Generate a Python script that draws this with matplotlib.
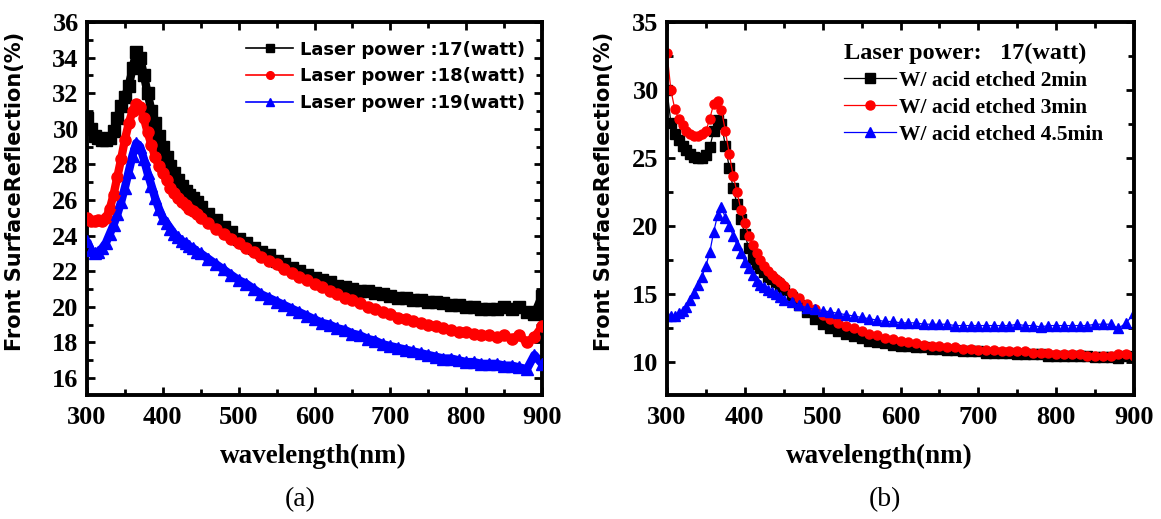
import matplotlib
matplotlib.use("Agg")
import matplotlib.pyplot as plt
from matplotlib.ticker import MultipleLocator

# ---------------- data: panel (a) ----------------
wl_a = [300, 305, 310, 315, 320, 325, 330, 335, 340, 345, 350, 355, 360, 365, 370,
        375, 380, 385, 390, 395, 400, 405, 410, 415, 420, 425, 430, 435, 440, 445, 450,
        460, 470, 480, 490, 500, 510, 520, 530, 540, 550, 560, 570, 580, 590, 600,
        610, 620, 630, 640, 650, 660, 670, 680, 690, 700, 710, 720, 730, 740, 750,
        760, 770, 780, 790, 800, 810, 820, 830, 840, 850, 860, 870, 880, 890, 900]

p17 = [30.6, 30.0, 29.6, 29.5, 29.4, 29.4, 29.5, 29.9, 30.6, 31.3, 31.8, 32.4, 33.4, 34.3, 34.0,
       33.0, 32.0, 31.0, 30.3, 29.6, 29.0, 28.4, 27.9, 27.5, 27.1, 26.8, 26.5, 26.3, 26.1, 25.9, 25.6,
       25.2, 24.9, 24.5, 24.2, 23.8, 23.6, 23.3, 23.1, 22.9, 22.6, 22.4, 22.2, 22.0, 21.8, 21.6,
       21.5, 21.4, 21.2, 21.1, 21.0, 20.9, 20.9, 20.8, 20.7, 20.6, 20.5, 20.5, 20.4, 20.4, 20.3,
       20.3, 20.2, 20.1, 20.1, 20.0, 20.0, 19.9, 19.9, 19.9, 20.0, 19.9, 20.0, 19.7, 19.6, 20.6]

p18 = [25.0, 24.8, 24.8, 24.9, 24.8, 25.0, 25.5, 26.3, 27.3, 28.3, 29.4, 30.3, 31.0, 31.4, 31.2,
       30.6, 29.8, 29.1, 28.4, 27.9, 27.5, 27.1, 26.7, 26.4, 26.1, 25.9, 25.7, 25.5, 25.4, 25.2, 25.0,
       24.7, 24.4, 24.1, 23.8, 23.6, 23.3, 23.1, 22.8, 22.6, 22.4, 22.1, 21.9, 21.7, 21.5, 21.3,
       21.1, 20.9, 20.7, 20.5, 20.4, 20.2, 20.0, 19.9, 19.7, 19.6, 19.4, 19.3, 19.2, 19.1, 19.0,
       18.9, 18.8, 18.7, 18.6, 18.6, 18.5, 18.4, 18.4, 18.3, 18.4, 18.2, 18.4, 18.0, 18.3, 18.9]

p19 = [23.7, 23.2, 23.0, 23.1, 23.3, 23.6, 24.1, 24.6, 25.2, 25.9, 26.7, 27.6, 28.5, 29.2, 29.0,
       28.3, 27.5, 26.8, 26.1, 25.5, 25.0, 24.7, 24.4, 24.1, 23.9, 23.7, 23.6, 23.4, 23.3, 23.1, 23.0,
       22.7, 22.4, 22.1, 21.8, 21.5, 21.3, 21.0, 20.7, 20.5, 20.3, 20.1, 19.9, 19.7, 19.5, 19.3,
       19.1, 19.0, 18.8, 18.7, 18.5, 18.4, 18.2, 18.1, 17.9, 17.8, 17.7, 17.6, 17.5, 17.4, 17.3,
       17.2, 17.1, 17.1, 17.0, 16.9, 16.9, 16.8, 16.8, 16.8, 16.7, 16.7, 16.6, 16.5, 17.3, 16.8]

labels_a = ["Laser power :17(watt)", "Laser power :18(watt)", "Laser power :19(watt)"]

# ---------------- data: panel (b) ----------------
wl_b = list(wl_a)

etch2 = [30.0, 27.6, 26.8, 26.3, 25.9, 25.6, 25.3, 25.1, 25.0, 25.0, 25.2, 25.8, 27.0, 27.8, 27.5,
         25.9, 24.3, 22.8, 21.6, 20.5, 19.4, 18.4, 17.6, 17.2, 16.9, 16.6, 16.3, 16.1, 15.9, 15.6, 15.3,
         14.8, 14.2, 13.7, 13.2, 12.8, 12.5, 12.3, 12.1, 11.9, 11.8, 11.6, 11.5, 11.4, 11.3, 11.2,
         11.2, 11.1, 11.1, 11.0, 11.0, 10.9, 10.9, 10.8, 10.8, 10.8, 10.7, 10.7, 10.7, 10.7, 10.6,
         10.6, 10.6, 10.6, 10.5, 10.5, 10.5, 10.5, 10.5, 10.5, 10.4, 10.4, 10.4, 10.3, 10.5, 10.4]

etch3 = [32.7, 30.0, 28.6, 27.9, 27.4, 27.0, 26.8, 26.6, 26.6, 26.8, 27.0, 27.9, 29.0, 29.2, 28.5,
         27.0, 25.3, 23.7, 22.5, 21.2, 20.2, 19.3, 18.6, 18.0, 17.5, 17.1, 16.7, 16.4, 16.1, 15.9, 15.6,
         15.1, 14.7, 14.3, 13.9, 13.5, 13.2, 12.9, 12.7, 12.5, 12.3, 12.1, 12.0, 11.8, 11.7, 11.6,
         11.5, 11.4, 11.3, 11.2, 11.2, 11.1, 11.1, 11.0, 11.0, 10.9, 10.9, 10.9, 10.8, 10.8, 10.8,
         10.8, 10.7, 10.7, 10.7, 10.6, 10.6, 10.6, 10.6, 10.5, 10.5, 10.5, 10.5, 10.6, 10.6, 10.5]

etch45 = [13.4, 13.4, 13.4, 13.6, 13.8, 14.1, 14.6, 15.1, 15.7, 16.3, 17.1, 18.1, 19.6, 20.8, 21.4,
          20.6, 20.0, 19.3, 18.6, 18.0, 17.4, 16.9, 16.4, 16.0, 15.7, 15.5, 15.3, 15.2, 15.0, 14.8, 14.6,
          14.4, 14.2, 14.0, 13.9, 13.8, 13.7, 13.6, 13.5, 13.4, 13.3, 13.2, 13.1, 13.0, 13.0, 12.9,
          12.9, 12.9, 12.8, 12.8, 12.8, 12.8, 12.7, 12.7, 12.7, 12.7, 12.7, 12.7, 12.7, 12.7, 12.8,
          12.7, 12.7, 12.6, 12.7, 12.7, 12.7, 12.7, 12.7, 12.7, 12.8, 12.8, 12.8, 12.5, 12.9, 13.6]

labels_b = ["W/ acid etched 2min", "W/ acid etched 3min", "W/ acid etched 4.5min"]
legend_title_b = "Laser power:   17(watt)"

xticks = [300, 400, 500, 600, 700, 800, 900]
yticks_a = [16, 18, 20, 22, 24, 26, 28, 30, 32, 34, 36]
yticks_b = [10, 15, 20, 25, 30, 35]

colors = ["#000000", "#ff0000", "#0000ff"]

# ---------------- figure ----------------
W, H = 1161, 519
fig = plt.figure(figsize=(W / 100, H / 100), dpi=100)

def box(x0, x1, y0, y1):
    return [x0 / W, (H - y1) / H, (x1 - x0) / W, (y1 - y0) / H]

ax1 = fig.add_axes(box(87, 542, 22, 395))
ax2 = fig.add_axes(box(667, 1134, 22, 395))

tick_font = dict(family="Liberation Serif", weight="bold", size=19)
xlabel_font = dict(family="Liberation Serif", weight="bold", size=19.5)
ylabel_font = dict(family="DejaVu Sans", weight="bold", size=15)

def style(ax, ylim, yticks, ymin_step):
    ax.set_xlim(300, 900)
    ax.set_ylim(*ylim)
    ax.set_xticks(xticks)
    ax.set_yticks(yticks)
    ax.xaxis.set_minor_locator(MultipleLocator(50))
    ax.yaxis.set_minor_locator(MultipleLocator(ymin_step))
    ax.tick_params(which="both", direction="in", top=True, right=True, width=2, color="black")
    ax.tick_params(which="major", length=6)
    ax.tick_params(which="minor", length=4)
    ax.tick_params(axis="x", which="major", pad=8)
    ax.tick_params(axis="y", which="major", pad=6)
    for s in ax.spines.values():
        s.set_linewidth(2.8)
    ax.set_xticklabels([str(t) for t in xticks], fontdict=tick_font)
    ax.set_yticklabels([str(t) for t in yticks], fontdict=tick_font)
    ax.set_xlabel("wavelength(nm)", fontdict=xlabel_font)
    ax.set_ylabel("Front SurfaceReflection(%)", fontdict=ylabel_font)

# panel (a)
markers_a = ["s", "o", "^"]
for ys, c, m, lab in zip([p17, p18, p19], colors, markers_a, labels_a):
    ax1.plot(wl_a, ys, color=c, lw=6, zorder=2, solid_capstyle="butt")
    ax1.plot(wl_a, ys, color=c, lw=0, marker=m, ms=8, mec=c, mfc=c, zorder=3)
    ax1.plot([], [], color=c, lw=1.2, marker=m, ms=5.5, label=lab)

style(ax1, (15.05, 36), yticks_a, 1)
ax1.yaxis.set_label_coords(-0.137, 0.545)
ax1.xaxis.set_label_coords(0.497, -0.13)

leg1 = ax1.legend(loc="upper left", bbox_to_anchor=(0.35, 0.95), frameon=False,
                  prop=dict(family="DejaVu Sans", weight="bold", size=13),
                  handlelength=2.6, handletextpad=0.35, labelspacing=0.48,
                  borderpad=0, borderaxespad=0)

# panel (b)
markers_b = ["s", "o", "^"]
for ys, c, m, lab in zip([etch2, etch3, etch45], colors, markers_b, labels_b):
    ax2.plot(wl_b, ys, color=c, lw=0.9, marker=m, ms=6.5, mec=c, mfc=c, label=lab)

style(ax2, (7.6, 35), yticks_b, 2.5)
ax2.yaxis.set_label_coords(-0.113, 0.545)
ax2.xaxis.set_label_coords(0.454, -0.13)

leg2 = ax2.legend(loc="upper left", bbox_to_anchor=(0.38, 0.945), frameon=False,
                  prop=dict(family="Liberation Serif", weight="bold", size=15.5),
                  title=legend_title_b,
                  title_fontproperties=dict(family="Liberation Serif", weight="bold", size=17.5),
                  alignment="left",
                  handlelength=2.4, handletextpad=0.15, labelspacing=0.32,
                  borderpad=0, borderaxespad=0)

fig.text(300 / W, (H - 500) / H, "(a)", family="Liberation Serif", size=20,
         ha="center", va="center")
fig.text(885 / W, (H - 500) / H, "(b)", family="Liberation Serif", size=20,
         ha="center", va="center")

fig.savefig("out.png", dpi=100)
